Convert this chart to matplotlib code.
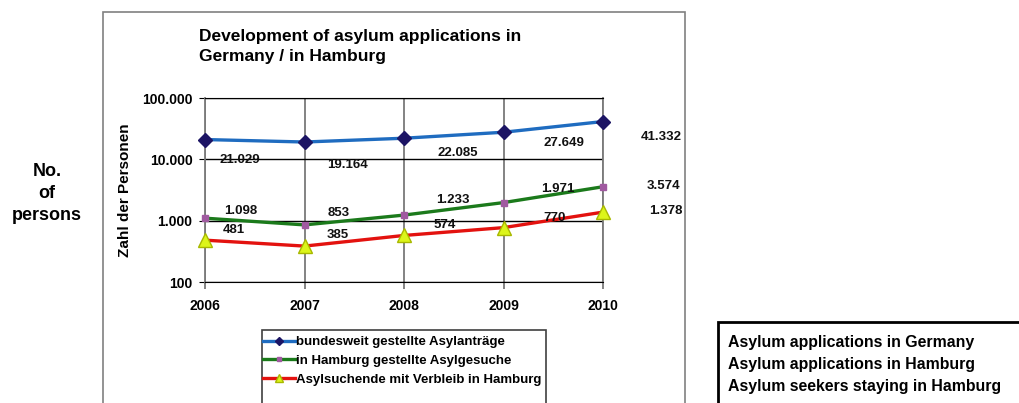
import matplotlib.pyplot as plt
from matplotlib.patches import Rectangle
from matplotlib.ticker import FuncFormatter, NullLocator, FixedLocator

plt.rcParams['font.family'] = ['Liberation Sans', 'DejaVu Sans']
plt.rcParams['font.weight'] = 'bold'

# Asylum applications 2006-2010
years = [2006, 2007, 2008, 2009, 2010]
germany = [21029, 19164, 22085, 27649, 41332]
hamburg = [1098, 853, 1233, 1971, 3574]
staying = [481, 385, 574, 770, 1378]

series_labels = ['bundesweit gestellte Asylanträge',
                 'in Hamburg gestellte Asylgesuche',
                 'Asylsuchende mit Verbleib in Hamburg']
english_labels = ['Asylum applications in Germany',
                  'Asylum applications in Hamburg',
                  'Asylum seekers staying in Hamburg']

W, H = 1020, 403


def fx(px):
    return px / W


def fy(py):
    return 1 - py / H


def de_fmt(v, pos=None):
    return f'{v:,.0f}'.replace(',', '.')


fig = plt.figure(figsize=(W / 100, H / 100), dpi=100)
fig.patch.set_facecolor('white')

# chart frame and the translation box (both run off the bottom of the image)
fig.add_artist(Rectangle((fx(103), fy(440)), fx(685) - fx(103), fy(12) - fy(440),
                         transform=fig.transFigure, fill=False, edgecolor='#808080', lw=1.2))
fig.add_artist(Rectangle((fx(718), fy(440)), fx(1060) - fx(718), fy(322) - fy(440),
                         transform=fig.transFigure, fill=False, edgecolor='black', lw=2))
fig.add_artist(Rectangle((fx(262), fy(440)), fx(546) - fx(262), fy(330) - fy(440),
                         transform=fig.transFigure, fill=False, edgecolor='#404040', lw=1.2))

ax = fig.add_axes([fx(205), fy(282), fx(603) - fx(205), fy(98) - fy(282)])
ax.set_yscale('log')
ax.set_ylim(100, 100000)
ax.set_xlim(2006, 2010)

ax.plot(years, germany, color='#1f6cc0', lw=2.4, marker='D', ms=7,
        mfc='#1c1464', mec='#1c1464', label=series_labels[0], zorder=3, clip_on=False)
ax.plot(years, hamburg, color='#1b7a1b', lw=2.4, marker='s', ms=4.5,
        mfc='#a05aa0', mec='#a05aa0', label=series_labels[1], zorder=3, clip_on=False)
ax.plot(years, staying, color='#e3120f', lw=2.4, marker='^', ms=10,
        mfc='#dcf51a', mec='#a8b800', label=series_labels[2], zorder=3, clip_on=False)

# data labels, offsets in pixels from each point
offsets = [
    [(15, -20), (23, -23), (33, -15), (40, -11), (38, -15)],
    [(19, 7), (23, 12), (32, 15), (38, 14), (44, 1)],
    [(18, 10), (22, 11), (30, 10), (40, 10), (46, 1)],
]
for vals, offs in zip([germany, hamburg, staying], offsets):
    for x, v, (dx, dy) in zip(years, vals, offs):
        ax.annotate(de_fmt(v), (x, v), xytext=(dx, dy), textcoords='offset pixels',
                    ha='left', va='center', fontsize=9.5, fontweight='bold',
                    color='#111111', zorder=4, annotation_clip=False)

ax.xaxis.set_major_locator(FixedLocator(years))
ax.yaxis.set_major_locator(FixedLocator([100, 1000, 10000, 100000]))
ax.yaxis.set_minor_locator(NullLocator())
ax.yaxis.set_major_formatter(FuncFormatter(de_fmt))
ax.grid(axis='x', color='#7a7a7a', lw=1.3)
ax.grid(axis='y', color='black', lw=1)
ax.tick_params(axis='x', length=5, color='#7a7a7a', width=1.3, pad=7,
               labelsize=10)
ax.tick_params(axis='y', length=4, color='black', pad=5, labelsize=10)
for lab in ax.get_xticklabels() + ax.get_yticklabels():
    lab.set_fontweight('bold')
for side in ['left', 'right']:
    ax.spines[side].set_color('#7a7a7a')
    ax.spines[side].set_linewidth(1.3)
ax.spines['top'].set_color('black')
ax.spines['bottom'].set_color('black')

fig.text(fx(125), fy(190), 'Zahl der Personen', rotation=90, ha='center',
         va='center', fontsize=11, fontweight='bold')

fig.text(fx(199), fy(36), 'Development of asylum applications in', ha='left',
         va='center', fontsize=12.5, fontweight='bold')
fig.text(fx(199), fy(57), 'Germany / in Hamburg', ha='left',
         va='center', fontsize=12.5, fontweight='bold')

fig.legend(loc='upper left', bbox_to_anchor=(fx(263), fy(336)), frameon=False,
           fontsize=9.5, handlelength=2.4, handletextpad=0.1, labelspacing=0.5,
           borderpad=0, borderaxespad=0, markerscale=0.6)

for i, t in enumerate(['No.', 'of', 'persons']):
    fig.text(fx(47), fy([172, 193, 215][i]), t, ha='center', va='center',
             fontsize=13, fontweight='bold')

for i, t in enumerate(english_labels):
    fig.text(fx(728), fy(342 + 22.5 * i), t, ha='left', va='center',
             fontsize=11.4, fontweight='bold')

fig.savefig('out.png', dpi=100)
